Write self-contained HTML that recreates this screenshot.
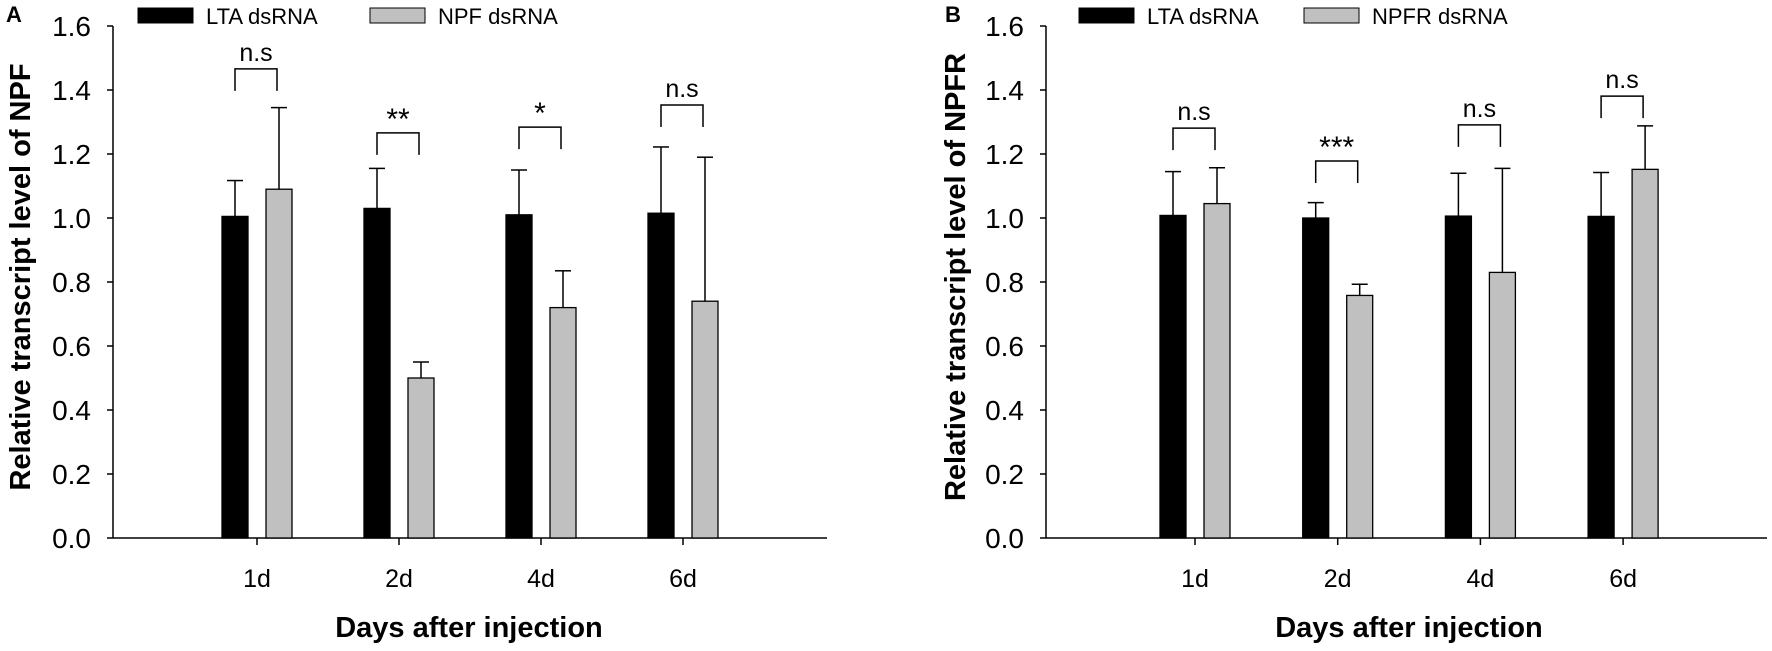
<!DOCTYPE html>
<html><head><meta charset="utf-8"><style>
html,body{margin:0;padding:0;background:#fff}
svg{display:block;font-family:"Liberation Sans",Arial,sans-serif}
</style></head><body>
<svg id="c" width="1772" height="651" viewBox="0 0 1772 651"></svg>
<script>
const categories = ["1d","2d","4d","6d"];
const yTicks = [0.0,0.2,0.4,0.6,0.8,1.0,1.2,1.4,1.6];
const aLta = [1.005,1.03,1.01,1.015];
const aLtaErr = [0.112,0.125,0.14,0.207];
const aNpf = [1.09,0.50,0.72,0.74];
const aNpfErr = [0.255,0.05,0.115,0.45];
const aSig = ["n.s","**","*","n.s"];
const aBrTop = [1.466,1.266,1.284,1.353];
const bLta = [1.008,1.0,1.006,1.005];
const bLtaErr = [0.137,0.048,0.134,0.137];
const bNpfr = [1.045,0.758,0.83,1.152];
const bNpfrErr = [0.112,0.035,0.325,0.136];
const bSig = ["n.s","***","n.s","n.s"];
const bBrTop = [1.281,1.178,1.291,1.381];

const svg=document.getElementById('c');
const NS='http://www.w3.org/2000/svg';
function mk(t,a,txt){const e=document.createElementNS(NS,t);for(const k in a)e.setAttribute(k,a[k]);if(txt!==undefined)e.textContent=txt;svg.appendChild(e);return e;}

function panel(p){
  const y0=538, k=320;
  const Y=v=>y0-v*k;
  const X=i=>p.first+i*p.step;
  let e=mk('line',{x1:p.ax,y1:Y(0),x2:p.ax,y2:Y(1.6),stroke:'#000','stroke-width':1.5});
  
  e=mk('line',{x1:p.ax,y1:Y(0),x2:p.axEnd,y2:Y(0),stroke:'#000','stroke-width':1.5});
  
  yTicks.forEach(v=>{
    mk('line',{x1:p.ax-6,y1:Y(v),x2:p.ax,y2:Y(v),stroke:'#000','stroke-width':1.5});
    e=mk('text',{x:p.ax-22,y:Y(v)+10,'text-anchor':'end','font-size':28,fill:'#000'},v.toFixed(1));
    
  });
  categories.forEach((c,i)=>{
    mk('line',{x1:X(i),y1:Y(0),x2:X(i),y2:Y(0)+7,stroke:'#000','stroke-width':1.5});
    e=mk('text',{x:X(i),y:587,'text-anchor':'middle','font-size':25,fill:'#000'},c);
    
    const s=[[p.s1,p.e1,'#000',-22],[p.s2,p.e2,'#c0c0c0',22]];
    s.forEach(([vals,errs,col,off],j)=>{
      const cx=X(i)+off, top=Y(vals[i]), et=Y(vals[i]+errs[i]);
      e=mk('line',{x1:cx,y1:top,x2:cx,y2:et,stroke:'#000','stroke-width':1.5});
      
      mk('line',{x1:cx-8,y1:et,x2:cx+8,y2:et,stroke:'#000','stroke-width':1.5});
      e=mk('rect',{x:cx-13,y:top,width:26,height:Y(0)-top,fill:col,stroke:'#000','stroke-width':1.3});
      
    });
    const bt=Y(p.br[i]), lx=X(i)-22, rx=X(i)+20;
    e=mk('path',{d:`M${lx},${bt+22}V${bt}H${rx}V${bt+22}`,fill:'none',stroke:'#000','stroke-width':1.5});
    
    const isStar=p.sig[i]!=='n.s';
    e=mk('text',{x:(lx+rx)/2,y:isStar?bt-4:bt-8,'text-anchor':'middle','font-size':isStar?30:25,fill:'#000'},p.sig[i]);
    
  });
  e=mk('text',{x:0,y:0,transform:`translate(${p.ytx},277) rotate(-90)`,'text-anchor':'middle','font-size':29,'font-weight':'bold',fill:'#000'},p.ytitle);
  
  e=mk('text',{x:p.xtx,y:637,'text-anchor':'middle','font-size':29,'font-weight':'bold',fill:'#000'},'Days after injection');
  
  e=mk('text',{x:p.letterX,y:22,'font-size':22,'font-weight':'bold',fill:'#000'},p.letter);
  
  e=mk('rect',{x:p.lg[0],y:8,width:55,height:15,fill:'#000',stroke:'#000'});
  
  e=mk('text',{x:p.lg[0]+68,y:24,'font-size':22,fill:'#000'},'LTA dsRNA');
  
  e=mk('rect',{x:p.lg[1],y:8,width:55,height:15,fill:'#c0c0c0',stroke:'#000'});
  
  e=mk('text',{x:p.lg[1]+68,y:24,'font-size':22,fill:'#000'},p.lgName);
  
}
panel({id:'panel-a',ax:113,axEnd:827,first:257,step:142,s1:aLta,e1:aLtaErr,s2:aNpf,e2:aNpfErr,sig:aSig,br:aBrTop,
  ytitle:'Relative transcript level of NPF',ytx:30,xtx:469,letter:'A',letterX:6,lg:[138,370],lgName:'NPF dsRNA'});
panel({id:'panel-b',ax:1046,axEnd:1767,first:1195,step:142.7,s1:bLta,e1:bLtaErr,s2:bNpfr,e2:bNpfrErr,sig:bSig,br:bBrTop,
  ytitle:'Relative transcript level of NPFR',ytx:965,xtx:1409,letter:'B',letterX:945,lg:[1079,1304],lgName:'NPFR dsRNA'});
</script>
</body></html>
